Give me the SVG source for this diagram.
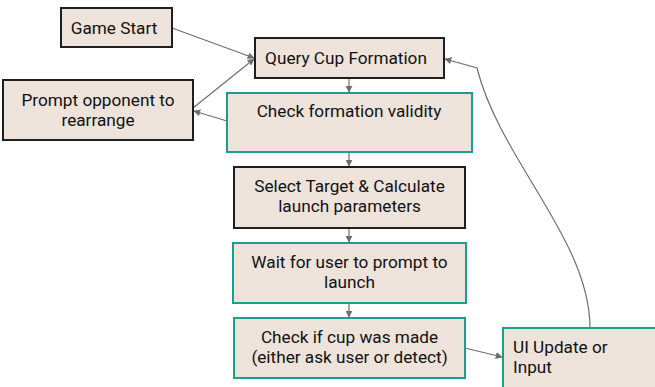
<svg xmlns="http://www.w3.org/2000/svg" width="655" height="387" viewBox="0 0 655 387">
  <style>
    .box { fill: #ede3db; stroke-width: 2; }
    .dark { stroke: #1f1f1f; }
    .teal { stroke: #1a9e8f; }
    .label { font-family: Roboto, "Liberation Sans", sans-serif; font-size: 17.2px; fill: #111111; }
    .mid { text-anchor: middle; }
    .edge { fill: none; stroke: #6e6e6e; stroke-width: 1.2; }
  </style>
  <defs>
    <marker id="arrow" viewBox="0 0 10 10" refX="9" refY="5" markerWidth="7" markerHeight="7" orient="auto" markerUnits="userSpaceOnUse">
      <path d="M0,0 L10,5 L0,10 z" fill="#6e6e6e"/>
    </marker>
  </defs>
  <rect width="655" height="387" fill="#ffffff"/>

  <g id="connectors">
    <line class="edge" x1="172" y1="28" x2="254" y2="58" marker-end="url(#arrow)"/>
    <line class="edge" x1="193" y1="108" x2="254" y2="59" marker-end="url(#arrow)"/>
    <line class="edge" x1="227" y1="121" x2="194" y2="111" marker-end="url(#arrow)"/>
    <line class="edge" x1="349" y1="78" x2="349" y2="92" marker-end="url(#arrow)"/>
    <line class="edge" x1="349" y1="152" x2="349" y2="166" marker-end="url(#arrow)"/>
    <line class="edge" x1="349" y1="228" x2="349" y2="242" marker-end="url(#arrow)"/>
    <line class="edge" x1="349" y1="303" x2="349" y2="317" marker-end="url(#arrow)"/>
    <line class="edge" x1="465" y1="348" x2="502" y2="357" marker-end="url(#arrow)"/>
    <path class="edge" d="M590,328 C590,240 500,160 477,68 L445,59" marker-end="url(#arrow)"/>
  </g>

  <g id="game-start">
    <rect class="box dark" x="61" y="8" width="111" height="39"/>
    <text class="label mid" x="114" y="34">Game Start</text>
  </g>

  <g id="query-cup-formation">
    <rect class="box dark" x="255" y="38" width="189" height="40"/>
    <text class="label mid" x="346" y="64">Query Cup Formation</text>
  </g>

  <g id="prompt-opponent">
    <rect class="box dark" x="3" y="80" width="190" height="60"/>
    <text class="label mid" x="98" y="106">Prompt opponent to</text>
    <text class="label mid" x="98" y="126">rearrange</text>
  </g>

  <g id="check-formation">
    <rect class="box teal" x="227" y="93" width="245" height="59"/>
    <text class="label mid" x="349" y="117">Check formation validity</text>
  </g>

  <g id="select-target">
    <rect class="box dark" x="234" y="167" width="231" height="61"/>
    <text class="label mid" x="349.5" y="192">Select Target &amp; Calculate</text>
    <text class="label mid" x="349.5" y="212">launch parameters</text>
  </g>

  <g id="wait-for-user">
    <rect class="box teal" x="233" y="243" width="233" height="60"/>
    <text class="label mid" x="349.5" y="268">Wait for user to prompt to</text>
    <text class="label mid" x="349.5" y="288">launch</text>
  </g>

  <g id="check-cup-made">
    <rect class="box teal" x="234" y="318" width="231" height="60"/>
    <text class="label mid" x="349.5" y="343">Check if cup was made</text>
    <text class="label mid" x="349.5" y="363">(either ask user or detect)</text>
  </g>

  <g id="ui-update">
    <rect class="box teal" x="503" y="328" width="160" height="70"/>
    <text class="label" x="513" y="353">UI Update or</text>
    <text class="label" x="513" y="373">Input</text>
  </g>
</svg>
